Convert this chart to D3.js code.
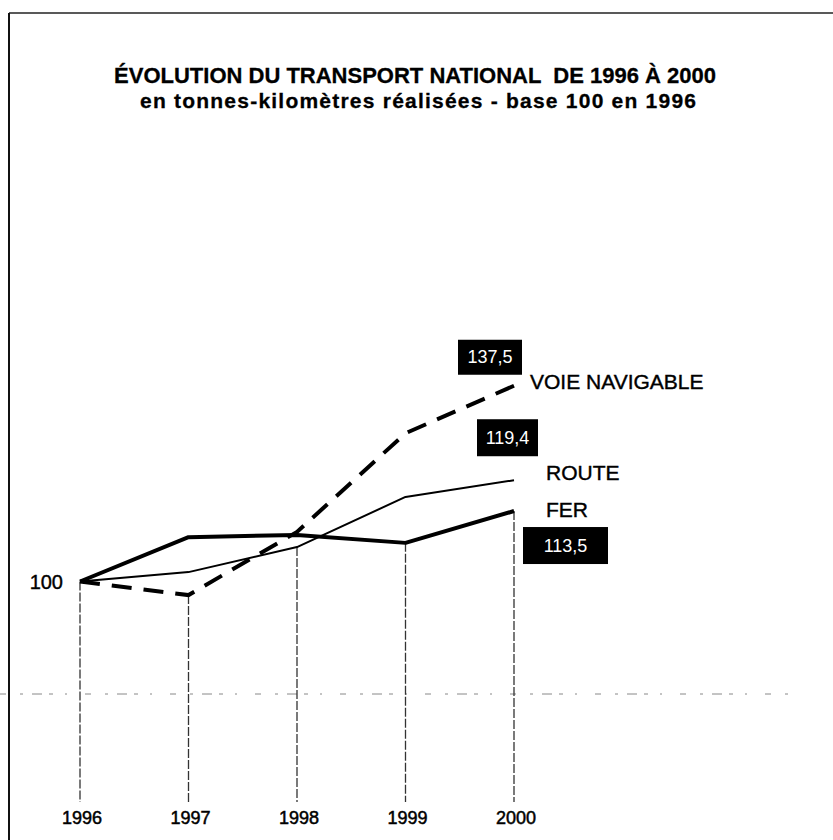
<!DOCTYPE html>
<html>
<head>
<meta charset="utf-8">
<script src="https://cdn.jsdelivr.net/npm/d3@7"></script>
<style>
  body { margin: 0; background: #fff; }
  svg { display: block; font-family: "Liberation Sans", Arial, Helvetica, sans-serif; }
</style>
</head>
<body>
<div id="chart"></div>
<script>
// data (base 100 in 1996)
var years = ["1996", "1997", "1998", "1999", "2000"];
var fer = [100, 108.5, 108.9, 107.4, 113.5];
var route = [100, 101.8, 106.6, 116.2, 119.4];
var voie = [100, 97.4, 109.5, 128.4, 137.5];
var seriesNames = ["VOIE NAVIGABLE", "ROUTE", "FER"];
var endLabels = ["137,5", "119,4", "113,5"];
var baseLabel = "100";

var width = 833, height = 840;

var svg = d3.select("#chart")
  .append("svg")
  .attr("width", width)
  .attr("height", height);

// frame (top and left edges of the scanned box)
svg.append("line")
  .attr("x1", 9).attr("y1", 13).attr("x2", width).attr("y2", 13)
  .attr("stroke", "#222").attr("stroke-width", 1.5);
svg.append("line")
  .attr("x1", 9).attr("y1", 13).attr("x2", 9).attr("y2", height)
  .attr("stroke", "#111").attr("stroke-width", 2);

// faint dashed fold line
svg.append("line")
  .attr("x1", 0).attr("y1", 694).attr("x2", 790).attr("y2", 694)
  .attr("stroke", "#888").attr("stroke-width", 1)
  .attr("stroke-dasharray", "6,14,3,9,10,7,4,12,2,18");

// titles
svg.append("text")
  .attr("x", 415).attr("y", 83)
  .attr("text-anchor", "middle")
  .attr("stroke", "#000").attr("stroke-width", 0.3)
  .style("font-size", "22px").style("font-weight", "bold")
  .style("white-space", "pre")
  .text("ÉVOLUTION DU TRANSPORT NATIONAL  DE 1996 À 2000");
svg.append("text")
  .attr("x", 140).attr("y", 108)
  .attr("textLength", 556)
  .attr("lengthAdjust", "spacing")
  .attr("stroke", "#000").attr("stroke-width", 0.3)
  .style("font-size", "21px").style("font-weight", "bold")
  .text("en tonnes-kilomètres réalisées - base 100 en 1996");

// scales
var x = d3.scalePoint()
  .domain(years)
  .range([80, 514]);
var y = d3.scaleLinear()
  .domain([100, 140])
  .range([581.5, 372.7]);
var yBottom = 802;

// vertical drop lines from the lowest point of each year
svg.append("g")
  .selectAll("line")
  .data(years)
  .join("line")
  .attr("x1", function(d) { return x(d); })
  .attr("x2", function(d) { return x(d); })
  .attr("y1", function(d, i) { return y(Math.min(fer[i], route[i], voie[i])); })
  .attr("y2", yBottom)
  .attr("stroke", "#333")
  .attr("stroke-width", 1.3)
  .attr("stroke-dasharray", "9,2");

// year labels
svg.append("g")
  .selectAll("text")
  .data(years)
  .join("text")
  .attr("x", function(d) { return x(d) + 2; })
  .attr("y", 824)
  .attr("text-anchor", "middle")
  .attr("stroke", "#000").attr("stroke-width", 0.5)
  .style("font-size", "18px")
  .text(function(d) { return d; });

// base value label
svg.append("text")
  .attr("x", x(years[0]) - 17).attr("y", y(100) + 7)
  .attr("text-anchor", "end")
  .attr("stroke", "#000").attr("stroke-width", 0.4)
  .style("font-size", "20px")
  .text(baseLabel);

var line = d3.line()
  .x(function(d, i) { return x(years[i]); })
  .y(function(d) { return y(d); });

// route : thin line
svg.append("path")
  .datum(route)
  .attr("fill", "none")
  .attr("stroke", "#000")
  .attr("stroke-width", 2)
  .attr("stroke-linejoin", "round")
  .attr("d", line);

// fer : thick line
svg.append("path")
  .datum(fer)
  .attr("fill", "none")
  .attr("stroke", "#000")
  .attr("stroke-width", 4)
  .attr("stroke-linejoin", "round")
  .attr("d", line);

// voie navigable : thick dashed line
svg.append("path")
  .datum(voie)
  .attr("fill", "none")
  .attr("stroke", "#000")
  .attr("stroke-width", 4)
  .attr("stroke-dasharray", "20,12")
  .attr("d", line);

// series names and end value boxes, placed from the 2000 point
var last = years[years.length - 1];
var lastVals = [voie[4], route[4], fer[4]];
var nameOffsets = [[16, 3], [32, 0], [32, 6]];
var boxOffsets = [[-56, -46, 64, 35], [-37, -61, 61, 37], [9, 16, 85, 37]];

seriesNames.forEach(function(name, i) {
  var px = x(last), py = y(lastVals[i]);
  var b = boxOffsets[i];
  svg.append("rect")
    .attr("x", px + b[0]).attr("y", py + b[1])
    .attr("width", b[2]).attr("height", b[3])
    .attr("fill", "#000");
  svg.append("text")
    .attr("x", px + b[0] + b[2] / 2)
    .attr("y", py + b[1] + b[3] / 2 + 6)
    .attr("text-anchor", "middle")
    .attr("fill", "#fff")
    .style("font-size", "18px")
    .text(endLabels[i]);
  svg.append("text")
    .attr("x", px + nameOffsets[i][0])
    .attr("y", py + nameOffsets[i][1])
    .attr("stroke", "#000").attr("stroke-width", 0.4)
    .style("font-size", "21px")
    .text(name);
});
</script>
</body>
</html>
